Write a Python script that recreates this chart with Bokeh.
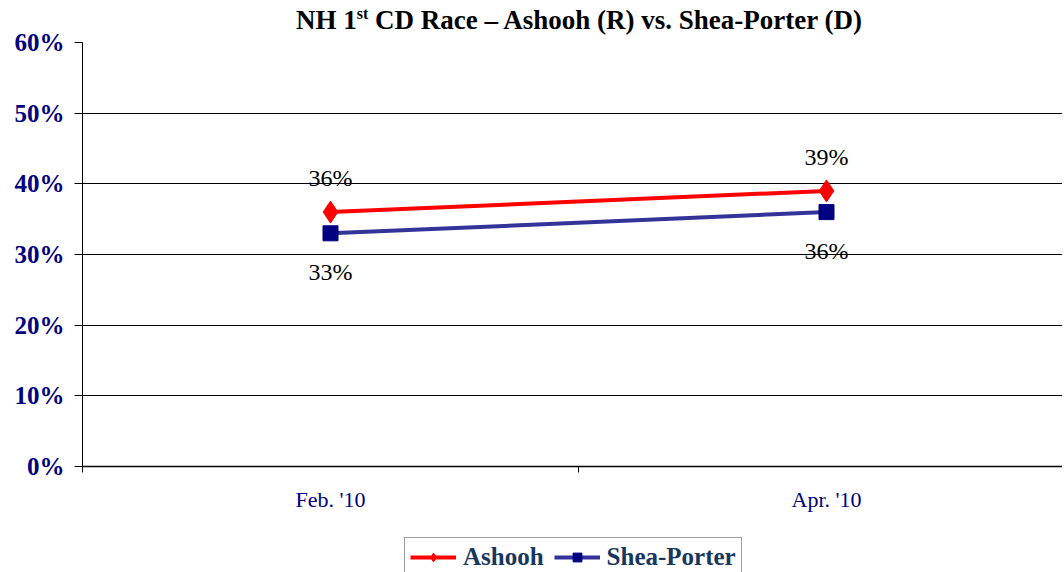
from bokeh.plotting import figure
from bokeh.layouts import column
from bokeh.models import (Legend, LegendItem, FixedTicker, NumeralTickFormatter,
                          Range1d, ColumnDataSource, Div)
from bokeh.core.properties import value
from bokeh.embed import file_html
from bokeh.resources import INLINE

categories = ["Feb. '10", "Apr. '10"]
ashooh = [0.36, 0.39]
shea = [0.33, 0.36]
ashooh_labels = ["36%", "39%"]
shea_labels = ["33%", "36%"]
y_ticks = [0.0, 0.1, 0.2, 0.3, 0.4, 0.5, 0.6]

xs = list(range(len(categories)))
SERIF = "Liberation Serif"
RED, BLUE_LINE, NAVY = "#FF0000", "#333399", "#000080"

title = Div(
    text="NH 1<sup style='font-size:16px;'>st</sup> CD Race \u2013 Ashooh (R) vs. Shea-Porter (D)",
    width=1060, height=24, margin=(0, 0, 0, 0),
    styles={"font-family": SERIF, "font-weight": "bold", "font-size": "27px",
            "color": "black", "padding-left": "296px", "line-height": "27px",
            "padding-top": "0px", "white-space": "nowrap",
            "overflow": "visible", "position": "relative", "z-index": "10"})

p = figure(frame_width=980, frame_height=424, output_backend="svg",
           toolbar_location=None,
           x_range=Range1d(-0.5, -0.5 + 980 / 496.0), y_range=Range1d(0, 0.6),
           min_border_left=82, min_border_right=0, min_border_top=18,
           min_border_bottom=70, margin=(0, 0, 0, 0))
p.outline_line_color = None
p.background_fill_color = "white"
p.border_fill_color = "white"
p.border_fill_alpha = 0

# grid
p.xgrid.grid_line_color = None
p.ygrid.ticker = FixedTicker(ticks=y_ticks)
p.ygrid.grid_line_color = "black"
p.ygrid.grid_line_width = 1

# y axis
p.yaxis.ticker = FixedTicker(ticks=y_ticks)
p.yaxis.formatter = NumeralTickFormatter(format="0%")
p.yaxis.major_label_text_font = SERIF
p.yaxis.major_label_text_font_style = "bold"
p.yaxis.major_label_text_font_size = "25px"
p.yaxis.major_label_text_color = NAVY
p.yaxis.axis_line_color = "black"
p.yaxis.major_tick_line_color = "black"
p.yaxis.major_tick_in = 0
p.yaxis.major_tick_out = 8
p.yaxis.minor_tick_line_color = None
p.yaxis.major_label_standoff = 10

# x axis
p.xaxis.ticker = FixedTicker(ticks=xs, minor_ticks=[-0.5, 0.5, 1.5])
p.xaxis.major_label_overrides = {i: c for i, c in enumerate(categories)}
p.xaxis.major_label_text_font = SERIF
p.xaxis.major_label_text_font_size = "22px"
p.xaxis.major_label_text_color = NAVY
p.xaxis.major_tick_line_color = None
p.xaxis.major_tick_in = 0
p.xaxis.major_tick_out = 0
p.xaxis.minor_tick_line_color = "black"
p.xaxis.minor_tick_in = 0
p.xaxis.minor_tick_out = 6
p.xaxis.axis_line_color = "black"
p.xaxis.axis_line_width = 1.5
p.xaxis.major_label_standoff = 14

# series
src_a = ColumnDataSource(dict(x=xs, y=ashooh, t=ashooh_labels))
src_s = ColumnDataSource(dict(x=xs, y=shea, t=shea_labels))

def draw_series(fig):
    la = fig.line("x", "y", source=src_a, line_color=RED, line_width=4)
    ma = fig.scatter("x", "y", source=src_a, marker="diamond", size=22,
                     fill_color=RED, line_color=RED)
    ls = fig.line("x", "y", source=src_s, line_color=BLUE_LINE, line_width=4)
    ms = fig.scatter("x", "y", source=src_s, marker="square", size=15,
                     fill_color=NAVY, line_color=NAVY)
    return la, ma, ls, ms

draw_series(p)

p.text("x", "y", text="t", source=src_a, text_font=value(SERIF),
       text_font_size="24px", text_color="black", text_align="center",
       text_baseline="middle", y_offset=-34)
p.text("x", "y", text="t", source=src_s, text_font=value(SERIF),
       text_font_size="24px", text_color="black", text_align="center",
       text_baseline="middle", y_offset=39)

# legend panel: a strip below the chart; its copies of the series lie outside its view
lg = figure(frame_width=980, frame_height=49, output_backend="svg",
            toolbar_location=None,
            x_range=Range1d(10, 11), y_range=Range1d(10, 11),
            x_axis_location=None, y_axis_location=None,
            min_border_left=82, min_border_right=0, min_border_top=1,
            min_border_bottom=0, margin=(0, 0, 0, 0))
lg.outline_line_color = None
lg.xgrid.grid_line_color = None
lg.ygrid.grid_line_color = None
la2, ma2, ls2, ms2 = draw_series(lg)

legend = Legend(items=[LegendItem(label="Ashooh", renderers=[la2, ma2]),
                       LegendItem(label="Shea-Porter", renderers=[ls2, ms2])],
                orientation="horizontal", location=(322, 9))
legend.label_text_font = SERIF
legend.label_text_font_style = "bold"
legend.label_text_font_size = "25px"
legend.label_text_color = "#17375E"
legend.border_line_color = "#404040"
legend.border_line_width = 1.5
legend.glyph_width = 46
legend.glyph_height = 22
legend.spacing = 10
legend.padding = 5
legend.label_standoff = 7
legend.margin = 0
lg.add_layout(legend, "center")

layout = column(title, p, lg, spacing=0, margin=(0, 0, 0, 0))
open("out.html", "w").write(file_html(layout, INLINE))
